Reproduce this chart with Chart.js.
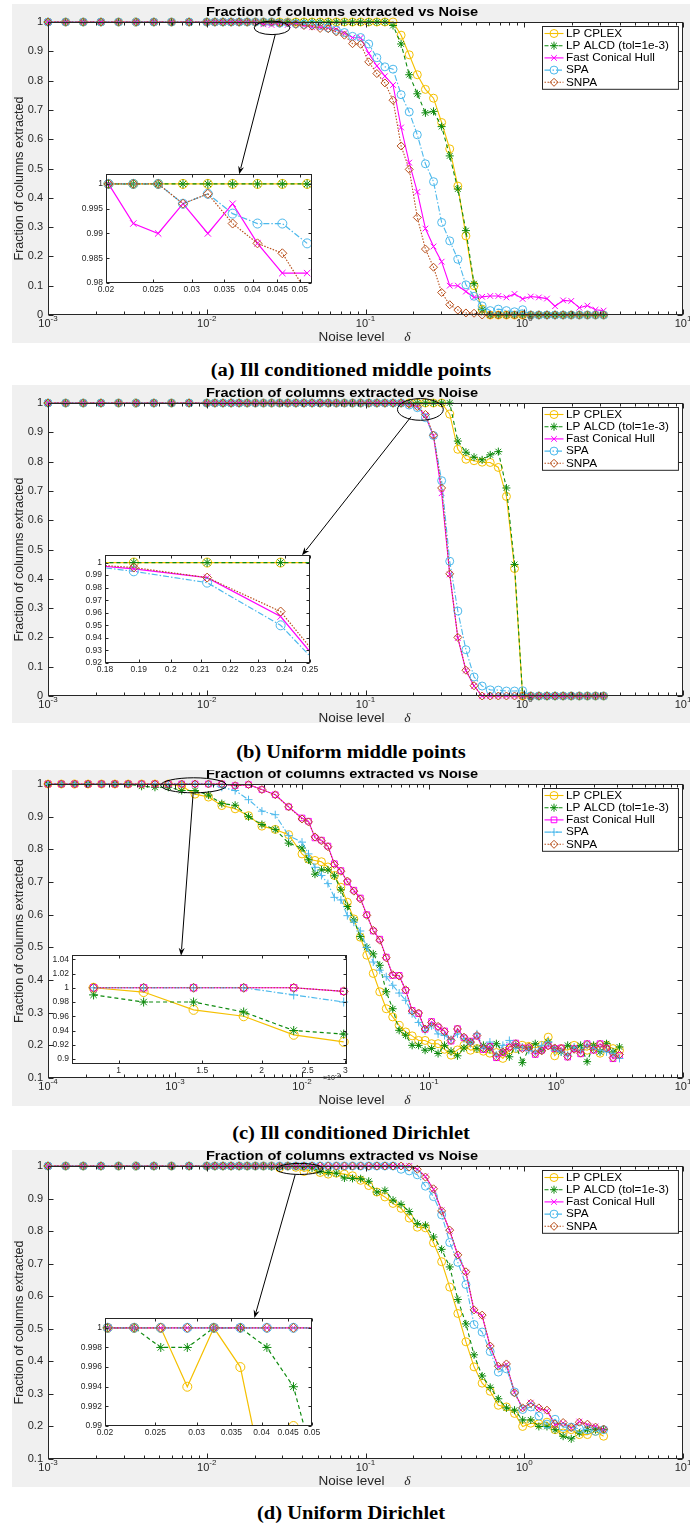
<!DOCTYPE html>
<html><head><meta charset="utf-8">
<script src="https://cdn.jsdelivr.net/npm/chart.js@4.4.1/dist/chart.umd.min.js"></script>
<style>
html,body{margin:0;padding:0;background:#fff}
body{width:694px;height:1525px;position:relative;overflow:hidden}
canvas{position:absolute}
canvas.main{background:#f0f0f0}
.cap{position:absolute;left:4px;width:694px;height:24px;line-height:24px;text-align:center;
 font-family:'Liberation Serif','Times New Roman',serif;font-weight:bold;font-size:18px;color:#000;transform:scaleX(1.14)}
</style></head><body>
<script>
// ---------------- DATA ----------------
const SERIES = ['LP CPLEX', 'LP ALCD (tol=1e-3)', 'Fast Conical Hull', 'SPA', 'SNPA'];

// noise levels (a, b, d)
const xGrid = [0.001,0.001292,0.001668,0.002154,0.002783,0.003594,0.004642,0.005995,0.007743,
 0.01,0.01125,0.01265,0.01423,0.016,0.01799,0.02024,0.02276,0.0256,0.02879,
 0.03238,0.03641,0.04095,0.04606,0.05179,0.05824,0.0655,0.07367,0.08285,0.09318,
 0.1048,0.1179,0.1325,0.1491,0.1676,0.1885,0.212,0.2385,0.2682,0.3017,
 0.3393,0.3816,0.4292,0.4827,0.5429,0.6105,0.6866,0.7722,0.8685,0.9768,
 1.099,1.236,1.39,1.563,1.758,1.977,2.223,2.5,2.812,3.162];
// noise levels (c)
const xGridC = [0.0001,0.0001274,0.0001624,0.0002069,0.0002637,0.000336,0.0004281,0.0005456,0.0006952,0.0008859,
 0.001129,0.001438,0.001833,0.002336,0.002976,0.003793,0.004833,0.006158,0.007848,
 0.01,0.01125,0.01265,0.01423,0.016,0.01799,0.02024,0.02276,0.0256,0.02879,
 0.03238,0.03641,0.04095,0.04606,0.05179,0.05824,0.0655,0.07367,0.08285,0.09318,
 0.1048,0.1179,0.1325,0.1491,0.1676,0.1885,0.212,0.2385,0.2682,0.3017,
 0.3393,0.3816,0.4292,0.4827,0.5429,0.6105,0.6866,0.7722,0.8685,0.9768,
 1.099,1.236,1.39,1.563,1.758,1.977,2.223,2.5,2.812,3.162];

// (a) Ill conditioned middle points
const A_cplex = [1,1,1,1,1,1,1,1,1,
 1,1,1,1,1,1,1,1,1,1,
 1,1,1,1,1,1,1,1,1,1,
 1,1,1,1,0.955,0.888,0.82,0.77,0.74,0.657,
 0.567,0.44,0.27,0.1,0.02,0,0,0,0,0,
 0,0,0,0,0,0,0,0,0,0];
const A_alcd = [1,1,1,1,1,1,1,1,1,
 1,1,1,1,1,1,1,1,1,1,
 1,1,1,1,1,1,1,1,1,1,
 1,1,1,0.988,0.925,0.82,0.755,0.69,0.695,0.643,
 0.543,0.43,0.288,0.107,0.018,0,0,0,0,0,
 0,0,0,0,0,0,0,0,0,0];
const A_fch = [1,1,1,1,1,1,1,1,1,
 1,1,1,1,1,1,1,0.992,0.99,0.996,
 0.99,0.996,0.988,0.982,0.982,0.98,0.975,0.962,0.947,0.946,
 0.893,0.85,0.815,0.785,0.64,0.52,0.42,0.295,0.234,0.182,
 0.1,0.1,0.08,0.06,0.062,0.065,0.065,0.06,0.072,0.055,
 0.063,0.06,0.056,0.03,0.05,0.048,0.025,0.032,0.018,0.015];
const A_spa = [1,1,1,1,1,1,1,1,1,
 1,1,1,1,1,1,1,1,1,0.996,
 0.998,0.994,0.992,0.992,0.988,0.98,0.972,0.964,0.951,0.947,
 0.925,0.878,0.847,0.839,0.752,0.693,0.615,0.516,0.455,0.316,
 0.253,0.19,0.103,0.064,0.031,0.015,0.02,0.015,0.011,0.018,
 0,0,0,0,0,0,0,0,0,0];
const A_snpa = [1,1,1,1,1,1,1,1,1,
 1,1,1,1,1,1,1,1,1,0.996,
 0.998,0.992,0.988,0.986,0.978,0.977,0.966,0.955,0.926,0.924,
 0.864,0.824,0.792,0.733,0.577,0.497,0.333,0.225,0.163,0.077,
 0.035,0.017,0.007,0.006,0,0,0,0,0,0,
 0,0,0,0,0,0,0,0,0,0];

// (b) Uniform middle points
const B_cplex = [1,1,1,1,1,1,1,1,1,
 1,1,1,1,1,1,1,1,1,1,
 1,1,1,1,1,1,1,1,1,1,
 1,1,1,1,1,1,1,1,1,1,
 0.962,0.842,0.808,0.803,0.798,0.797,0.78,0.681,0.435,0,
 0,0,0,0,0,0,0,0,0,0];
const B_alcd = [1,1,1,1,1,1,1,1,1,
 1,1,1,1,1,1,1,1,1,1,
 1,1,1,1,1,1,1,1,1,1,
 1,1,1,1,1,1,1,1,1,1,
 1,0.87,0.832,0.815,0.806,0.823,0.834,0.71,0.449,0,
 0,0,0,0,0,0,0,0,0,0];
const B_fch = [1,1,1,1,1,1,1,1,1,
 1,1,1,1,1,1,1,1,1,1,
 1,1,1,1,1,1,1,1,1,1,
 1,1,1,1,1,0.995,0.988,0.957,0.887,0.692,
 0.415,0.198,0.087,0.034,0,0,0,0,0,0,
 0,0,0,0,0,0,0,0,0,0];
const B_spa = [1,1,1,1,1,1,1,1,1,
 1,1,1,1,1,1,1,1,1,1,
 1,1,1,1,1,1,1,1,1,1,
 1,1,1,1,1,0.993,0.984,0.95,0.889,0.735,
 0.46,0.29,0.158,0.065,0.034,0.021,0.02,0.017,0.017,0.018,
 0,0,0,0,0,0,0,0,0,0];
const B_snpa = [1,1,1,1,1,1,1,1,1,
 1,1,1,1,1,1,1,1,1,1,
 1,1,1,1,1,1,1,1,1,1,
 1,1,1,1,1,0.996,0.988,0.961,0.89,0.71,
 0.417,0.2,0.088,0.035,0,0,0,0,0,0,
 0,0,0,0,0,0,0,0,0,0];

// (c) Ill conditioned Dirichlet
const C_cplex = [1,1,1,1,1,1,1,1,1,1,0.994,0.969,0.96,0.934,0.924,0.903,0.871,0.861,0.845,
 0.786,0.77,0.766,0.762,0.746,0.72,0.684,0.638,0.587,0.531,
 0.476,0.42,0.364,0.312,0.287,0.261,0.241,0.229,0.215,0.215,
 0.205,0.205,0.188,0.17,0.186,0.2,0.185,0.19,0.182,0.176,
 0.178,0.16,0.186,0.19,0.2,0.197,0.192,0.2,0.225,0.168,
 0.19,0.185,0.2,0.19,0.185,0.195,0.176,0.2,0.19,0.185];
const C_alcd = [1,1,1,1,1,1,1,0.993,0.99,0.99,0.98,0.98,0.966,0.94,0.935,0.9,0.876,0.861,0.819,
 0.804,0.768,0.724,0.737,0.737,0.719,0.676,0.625,0.584,0.533,
 0.5,0.48,0.445,0.364,0.312,0.246,0.231,0.2,0.2,0.185,
 0.19,0.175,0.2,0.182,0.168,0.192,0.21,0.19,0.2,0.188,
 0.205,0.18,0.165,0.2,0.147,0.19,0.205,0.185,0.21,0.19,
 0.18,0.2,0.19,0.2,0.15,0.2,0.18,0.205,0.18,0.195];
const C_fch = [1,1,1,1,1,1,1,1,1,1,1,1,1,1,0.995,0.998,0.983,0.967,0.93,
 0.896,0.886,0.835,0.828,0.81,0.756,0.735,0.7,0.675,0.651,
 0.6,0.55,0.525,0.47,0.414,0.414,0.368,0.307,0.297,0.249,
 0.273,0.256,0.244,0.213,0.251,0.223,0.213,0.228,0.187,0.197,
 0.162,0.177,0.195,0.207,0.192,0.192,0.172,0.185,0.2,0.19,
 0.192,0.164,0.19,0.174,0.205,0.185,0.205,0.19,0.159,0.169];
const C_spa = [1,1,1,1,1,1,1,1,1,1,1,1,1,0.99,0.98,0.952,0.917,0.906,0.842,
 0.822,0.786,0.745,0.72,0.695,0.653,0.645,0.597,0.577,0.55,
 0.5,0.455,0.43,0.41,0.384,0.36,0.338,0.297,0.27,0.245,
 0.26,0.235,0.23,0.218,0.235,0.22,0.205,0.235,0.19,0.21,
 0.17,0.2,0.215,0.19,0.195,0.185,0.18,0.2,0.21,0.185,
 0.18,0.17,0.195,0.185,0.2,0.19,0.185,0.18,0.175,0.16];
const C_snpa = [1,1,1,1,1,1,1,1,1,1,1,1,1,1,0.995,0.998,0.983,0.967,0.93,
 0.893,0.884,0.838,0.826,0.808,0.754,0.733,0.703,0.672,0.648,
 0.598,0.552,0.522,0.468,0.416,0.412,0.37,0.305,0.299,0.25,
 0.27,0.258,0.242,0.215,0.25,0.225,0.21,0.23,0.19,0.195,
 0.165,0.18,0.193,0.205,0.19,0.195,0.175,0.183,0.198,0.192,
 0.19,0.166,0.188,0.176,0.203,0.187,0.203,0.192,0.162,0.172];

// (d) Uniform Dirichlet
const D_cplex = [1,1,1,1,1,1,1,1,1,
 1,1,1,1,1,1,1,1,1,0.994,
 1,0.996,0.983,0.99,0.98,0.975,0.978,0.975,0.97,0.956,
 0.94,0.92,0.905,0.885,0.87,0.84,0.812,0.81,0.764,0.706,
 0.628,0.547,0.46,0.383,0.333,0.308,0.265,0.26,0.24,0.2,
 0.21,0.208,0.213,0.19,0.18,0.19,0.175,0.175,0.185,0.17];
const D_alcd = [1,1,1,1,1,1,1,1,1,
 1,1,1,1,1,1,1,1,0.998,0.998,
 1,1,0.998,0.994,0.984,0.98,0.978,0.963,0.962,0.961,
 0.953,0.92,0.925,0.895,0.882,0.86,0.823,0.818,0.782,0.744,
 0.69,0.59,0.515,0.42,0.355,0.32,0.285,0.257,0.25,0.22,
 0.22,0.2,0.2,0.19,0.17,0.162,0.18,0.19,0.19,0.19];
const D_fch = [1,1,1,1,1,1,1,1,1,
 1,1,1,1,1,1,1,1,1,1,
 1,1,1,1,1,1,1,1,1,1,
 1,1,1,1,1,1,0.99,0.968,0.928,0.864,
 0.801,0.725,0.673,0.556,0.54,0.445,0.383,0.39,0.305,0.255,
 0.273,0.255,0.248,0.205,0.21,0.195,0.215,0.205,0.2,0.19];
const D_spa = [1,1,1,1,1,1,1,1,1,
 1,1,1,1,1,1,1,1,1,1,
 1,1,1,1,1,1,1,1,1,1,
 1,1,1,1,0.99,0.985,0.973,0.938,0.906,0.85,
 0.765,0.704,0.636,0.513,0.49,0.43,0.367,0.377,0.306,0.252,
 0.26,0.232,0.207,0.222,0.198,0.198,0.193,0.19,0.185,0.19];
const D_snpa = [1,1,1,1,1,1,1,1,1,
 1,1,1,1,1,1,1,1,1,1,
 1,1,1,1,1,1,1,1,1,1,
 1,1,1,1,1,0.997,0.99,0.966,0.93,0.862,
 0.803,0.727,0.675,0.558,0.542,0.447,0.385,0.392,0.303,0.257,
 0.271,0.257,0.25,0.207,0.212,0.197,0.213,0.207,0.198,0.192];

// tick values / labels
const yTicks0 = [0,0.1,0.2,0.3,0.4,0.5,0.6,0.7,0.8,0.9,1];
const yTicks1 = [0.1,0.2,0.3,0.4,0.5,0.6,0.7,0.8,0.9,1];
const xDecABD = [0.001,0.01,0.1,1,10];
const xExpABD = ['-3','-2','-1','0','1'];
const xDecC = [0.0001,0.001,0.01,0.1,1,10];
const xExpC = ['-4','-3','-2','-1','0','1'];
const insA_x = [0.02,0.025,0.03,0.035,0.04,0.045,0.05];
const insA_y = [0.98,0.985,0.99,0.995,1];
const insB_x = [0.18,0.19,0.2,0.21,0.22,0.23,0.24,0.25];
const insB_y = [0.92,0.93,0.94,0.95,0.96,0.97,0.98,0.99,1];
const insC_x = [0.001,0.0015,0.002,0.0025,0.003];
const insC_xLab = ['1','1.5','2','2.5','3'];
const insC_y = [0.9,0.92,0.94,0.96,0.98,1,1.02,1.04];
const insD_x = [0.02,0.025,0.03,0.035,0.04,0.045,0.05];
const insD_y = [0.99,0.992,0.994,0.996,0.998,1];

// ---------------- STYLE ----------------
const COLORS = ['#f5c000', '#0d8a0d', '#ff00ff', '#4db9ec', '#b8501c'];
const DASH = [[], [4, 3], [], [6, 2, 1.5, 2], [1.5, 1.5]];
const MARK_ABD = ['circle', 'star', 'crossRot', 'circle', 'rectRot'];
const MARK_C = ['circle', 'star', 'rect', 'cross', 'rectRot'];
const FONT = "'Liberation Sans', Arial, Helvetica, sans-serif";
const AXC = '#262626';
const FIG = {};

function font(size, o) { return (o.italic ? 'italic ' : '') + (o.bold ? 'bold ' : '') + size + 'px ' + (o.family || FONT); }
function txt(ctx, s, x, y, size, o) {
  o = o || {};
  ctx.save();
  ctx.font = font(size, o);
  ctx.fillStyle = o.color || AXC;
  ctx.textAlign = o.align || 'center';
  ctx.textBaseline = o.base || 'middle';
  ctx.translate(x, y);
  if (o.rot) ctx.rotate(o.rot);
  if (o.sx) ctx.scale(o.sx, 1);
  ctx.fillText(s, 0, 0);
  ctx.restore();
}
function tw(ctx, s, size, o) { ctx.save(); ctx.font = font(size, o || {}); const w = ctx.measureText(s).width; ctx.restore(); return w; }
function logMinor(min, max) {
  const out = [];
  for (let e = Math.floor(Math.log10(min)); e < Math.log10(max); e++)
    for (let m = 2; m <= 9; m++) { const v = m * Math.pow(10, e); if (v > min * 1.0001 && v < max * 0.9999) out.push(v); }
  return out;
}

const figPlugin = {
  id: 'fig',
  beforeDraw(chart) {
    const a = chart.chartArea, ctx = chart.ctx;
    ctx.save(); ctx.fillStyle = '#fff'; ctx.fillRect(a.left, a.top, a.right - a.left, a.bottom - a.top); ctx.restore();
  },
  afterDatasetsDraw(chart) {
    const c = FIG[chart.canvas.id]; if (!c) return;
    const ctx = chart.ctx, a = chart.chartArea, xs = chart.scales.x, ys = chart.scales.y;
    const L = Math.round(a.left) + 0.5, R = Math.round(a.right) - 0.5, Tp = Math.round(a.top) + 0.5, B = Math.round(a.bottom) - 0.5;
    ctx.save();
    ctx.strokeStyle = AXC; ctx.lineWidth = 1; ctx.setLineDash([]);
    ctx.beginPath();
    const tl = c.tickLen, ml = c.minorLen;
    c.xTicks.forEach(v => { const p = Math.round(xs.getPixelForValue(v)) + 0.5; ctx.moveTo(p, B); ctx.lineTo(p, B - tl); ctx.moveTo(p, Tp); ctx.lineTo(p, Tp + tl); });
    (c.xMinor || []).forEach(v => { const p = Math.round(xs.getPixelForValue(v)) + 0.5; ctx.moveTo(p, B); ctx.lineTo(p, B - ml); ctx.moveTo(p, Tp); ctx.lineTo(p, Tp + ml); });
    c.yTicks.forEach(v => { const p = Math.round(ys.getPixelForValue(v)) + 0.5; ctx.moveTo(L, p); ctx.lineTo(L + tl, p); ctx.moveTo(R, p); ctx.lineTo(R - tl, p); });
    ctx.stroke();
    ctx.strokeRect(L, Tp, R - L, B - Tp);
    ctx.restore();

    // y tick labels
    c.yTicks.forEach(v => txt(ctx, String(v), a.left - c.yLabGap, ys.getPixelForValue(v), c.tickFs, { align: 'right' }));
    // x tick labels
    if (c.xExp) {
      c.xTicks.forEach((v, i) => {
        const p = xs.getPixelForValue(v);
        const w1 = tw(ctx, '10', c.tickFs), w2 = tw(ctx, c.xExp[i], c.expFs);
        const s = p - (w1 + w2) / 2;
        txt(ctx, '10', s, a.bottom + 8.5, c.tickFs, { align: 'left' });
        txt(ctx, c.xExp[i], s + w1, a.bottom + 3.5, c.expFs, { align: 'left' });
      });
    } else {
      c.xTicks.forEach((v, i) => txt(ctx, c.xLabels[i], xs.getPixelForValue(v), a.bottom + 2, c.tickFs, { base: 'top' }));
    }
    if (c.expNote) {
      const x0 = a.right - 24, y0 = a.bottom + 14;
      const w1 = tw(ctx, '\u00d710', 7);
      txt(ctx, '\u00d710', x0, y0, 7, { align: 'left' });
      txt(ctx, '-3', x0 + w1, y0 - 3, 6, { align: 'left' });
    }
    if (c.kind !== 'main') return;

    // ellipse
    if (c.ellipse) {
      const e = c.ellipse;
      const px1 = xs.getPixelForValue(e.x1), px2 = xs.getPixelForValue(e.x2);
      const py1 = ys.getPixelForValue(e.y1), py2 = ys.getPixelForValue(e.y2);
      ctx.save(); ctx.strokeStyle = '#000'; ctx.lineWidth = 1;
      ctx.beginPath();
      ctx.ellipse((px1 + px2) / 2, (py1 + py2) / 2, Math.abs(px2 - px1) / 2, Math.abs(py2 - py1) / 2, 0, 0, Math.PI * 2);
      ctx.stroke(); ctx.restore();
    }
    if (c.arrow) {
      const r = c.arrow;
      const x1 = xs.getPixelForValue(r.x1), y1 = ys.getPixelForValue(r.y1);
      const x2 = xs.getPixelForValue(r.x2), y2 = ys.getPixelForValue(r.y2);
      const ang = Math.atan2(y2 - y1, x2 - x1), hl = 8, hw = 3;
      ctx.save(); ctx.strokeStyle = '#000'; ctx.fillStyle = '#000'; ctx.lineWidth = 1;
      ctx.beginPath(); ctx.moveTo(x1, y1);
      ctx.lineTo(x2 - Math.cos(ang) * hl * 0.8, y2 - Math.sin(ang) * hl * 0.8); ctx.stroke();
      ctx.beginPath(); ctx.moveTo(x2, y2);
      ctx.lineTo(x2 - Math.cos(ang) * hl - Math.sin(ang) * hw, y2 - Math.sin(ang) * hl + Math.cos(ang) * hw);
      ctx.lineTo(x2 - Math.cos(ang) * hl * 0.7, y2 - Math.sin(ang) * hl * 0.7);
      ctx.lineTo(x2 - Math.cos(ang) * hl + Math.sin(ang) * hw, y2 - Math.sin(ang) * hl - Math.cos(ang) * hw);
      ctx.closePath(); ctx.fill(); ctx.restore();
    }

    // legend
    const lg = c.legend, dsets = chart.data.datasets;
    let maxW = 0; dsets.forEach(d => { maxW = Math.max(maxW, tw(ctx, d.label, lg.fs) * lg.sx); });
    const W = 24 + maxW + 9, Hh = 14 + 12.2 * (dsets.length - 1);
    const lx = Math.round(a.right - 5 - W) + 0.5, ly = Math.round(a.top + 4) + 0.5;
    ctx.save();
    ctx.fillStyle = '#fff'; ctx.fillRect(lx, ly, W, Hh);
    ctx.strokeStyle = AXC; ctx.lineWidth = 1; ctx.strokeRect(lx, ly, W, Hh);
    dsets.forEach((d, i) => {
      const yy = ly + 7 + 12.2 * i;
      ctx.save();
      ctx.strokeStyle = d.borderColor; ctx.lineWidth = d.borderWidth; ctx.setLineDash(d.borderDash || []);
      ctx.beginPath(); ctx.moveTo(lx + 2, yy); ctx.lineTo(lx + 21, yy); ctx.stroke();
      ctx.setLineDash([]); ctx.fillStyle = 'rgba(0,0,0,0)'; ctx.strokeStyle = d.borderColor; ctx.lineWidth = 1;
      Chart.helpers.drawPoint(ctx, { pointStyle: d.pointStyle, rotation: 0, radius: d.pointRadius, borderWidth: 1 }, lx + 11.5, yy);
      ctx.restore();
      txt(ctx, d.label, lx + 23.5, yy + 0.5, lg.fs, { align: 'left', color: '#000', sx: lg.sx });
    });
    ctx.restore();

    // titles
    txt(ctx, c.title, c.titleX, a.top - 9.5, 13.5, { bold: true, color: '#000', sx: 1.08 });
    const cx = (a.left + a.right) / 2;
    txt(ctx, 'Noise level', cx - 14, a.bottom + 22, 13.5, { color: AXC });
    txt(ctx, '\u03b4', cx + 42, a.bottom + 22, 13.5, { color: AXC, italic: true, family: "'Liberation Serif', serif" });
    txt(ctx, 'Fraction of columns extracted', 8, (a.top + a.bottom) / 2 + 10, 12.5, { color: AXC, rot: -Math.PI / 2 });
  }
};

function addCanvas(id, cls, left, top, w, h) {
  const cv = document.createElement('canvas');
  cv.id = id; cv.className = cls; cv.width = w; cv.height = h;
  cv.style.left = left + 'px'; cv.style.top = top + 'px'; cv.style.width = w + 'px'; cv.style.height = h + 'px';
  document.body.appendChild(cv);
  return cv;
}

function makeDatasets(xs, vals, marks, from, to, inset, clip) {
  return SERIES.map((name, i) => {
    const pts = [];
    for (let j = from; j <= to; j++) pts.push({ x: xs[j], y: vals[i][j] });
    return {
      label: name, data: pts,
      borderColor: COLORS[i], backgroundColor: 'rgba(0,0,0,0)',
      borderWidth: inset ? 1.2 : 1.1, borderDash: DASH[i],
      pointStyle: marks[i], pointRadius: inset ? 4.5 : 4, pointBorderWidth: 1,
      pointBorderColor: COLORS[i], pointBackgroundColor: 'rgba(0,0,0,0)',
      tension: 0, clip: clip, order: 4 - i
    };
  });
}

const PANELS = [
  { id: 'a', xs: xGrid, vals: [A_cplex, A_alcd, A_fch, A_spa, A_snpa], marks: MARK_ABD,
    xMin: 0.001, xMax: 10, yMin: 0, yMax: 1, yTicks: yTicks0, xDec: xDecABD, xExp: xExpABD,
    top: 4, h: 339, pt: 18, pb: 28,
    ellipse: { x1: 0.0199, x2: 0.0334, y1: 0.957, y2: 1.003 }, arrow: { x1: 0.027, y1: 0.957, x2: 0.016, y2: 0.48 },
    caption: '(a) Ill conditioned middle points', capY: 370,
    inset: { box: [106, 174, 312, 283], from: 15, to: 23, xMin: 0.02, xMax: 0.053, yMin: 0.98, yMax: 1.002,
      xTicks: insA_x, xLabels: insA_x.map(String), yTicks: insA_y, clip: { left: 6, top: 6, right: 6, bottom: 0 } } },
  { id: 'b', xs: xGrid, vals: [B_cplex, B_alcd, B_fch, B_spa, B_snpa], marks: MARK_ABD,
    xMin: 0.001, xMax: 10, yMin: 0, yMax: 1, yTicks: yTicks0, xDec: xDecABD, xExp: xExpABD,
    top: 385, h: 338, pt: 18, pb: 27,
    ellipse: { x1: 0.159, x2: 0.309, y1: 0.941, y2: 1.015 }, arrow: { x1: 0.1935, y1: 0.953, x2: 0.0398, y2: 0.48 },
    caption: '(b) Uniform middle points', capY: 752,
    inset: { box: [105, 555, 310, 663], from: 33, to: 37, xMin: 0.18, xMax: 0.25, yMin: 0.92, yMax: 1.006,
      xTicks: insB_x, xLabels: insB_x.map(String), yTicks: insB_y, clip: 0 } },
  { id: 'c', xs: xGridC, vals: [C_cplex, C_alcd, C_fch, C_spa, C_snpa], marks: MARK_C,
    xMin: 0.0001, xMax: 10, yMin: 0.1, yMax: 1, yTicks: yTicks1, xDec: xDecC, xExp: xExpC,
    top: 770, h: 336, pt: 14, pb: 28,
    ellipse: { x1: 0.000773, x2: 0.00255, y1: 0.973, y2: 1.019 }, arrow: { x1: 0.00139, y1: 0.973, x2: 0.001117, y2: 0.474 },
    caption: '(c) Ill conditioned Dirichlet', capY: 1133,
    inset: { box: [72, 955, 347, 1064], from: 9, to: 14, xMin: 0.000798, xMax: 0.003024, yMin: 0.893, yMax: 1.046,
      xTicks: insC_x, xLabels: insC_xLab, yTicks: insC_y, clip: false, expNote: true } },
  { id: 'd', xs: xGrid, vals: [D_cplex, D_alcd, D_fch, D_spa, D_snpa], marks: MARK_ABD,
    xMin: 0.001, xMax: 10, yMin: 0.1, yMax: 1, yTicks: yTicks1, xDec: xDecABD, xExp: xExpABD,
    top: 1150, h: 337, pt: 16, pb: 28,
    ellipse: { x1: 0.0275, x2: 0.054, y1: 0.974, y2: 1.008 }, arrow: { x1: 0.0361, y1: 0.974, x2: 0.01995, y2: 0.533 },
    caption: '(d) Uniform Dirichlet', capY: 1513,
    inset: { box: [105, 1318, 312, 1426], from: 15, to: 23, xMin: 0.02, xMax: 0.05, yMin: 0.99, yMax: 1.001,
      xTicks: insD_x, xLabels: insD_x.map(String), yTicks: insD_y, clip: { left: 6, top: 6, right: 0, bottom: 0 } } }
];

const MAIN_LEFT = 12, MAIN_W = 678;
PANELS.forEach(P => {
  // main chart
  const mid = 'main_' + P.id;
  const cv = addCanvas(mid, 'main', MAIN_LEFT, P.top, MAIN_W, P.h);
  FIG[mid] = {
    kind: 'main', xTicks: P.xDec, xExp: P.xExp, xMinor: logMinor(P.xMin, P.xMax), yTicks: P.yTicks,
    tickLen: 5, minorLen: 3, tickFs: 11, expFs: 8, yLabGap: 5,
    ellipse: P.ellipse, arrow: P.arrow, legend: { fs: 10.5, sx: 1.12 },
    title: 'Fraction of columns extracted vs Noise', titleX: 342 - MAIN_LEFT
  };
  new Chart(cv, {
    type: 'line',
    data: { datasets: makeDatasets(P.xs, P.vals, P.marks, 0, P.xs.length - 1, false, false) },
    options: {
      responsive: false, animation: false, events: [], devicePixelRatio: 1,
      layout: { padding: { left: 36, right: 7, top: P.pt, bottom: P.pb } },
      scales: {
        x: { type: 'logarithmic', min: P.xMin, max: P.xMax, display: false },
        y: { type: 'linear', min: P.yMin, max: P.yMax, display: false }
      },
      plugins: { legend: { display: false }, tooltip: { enabled: false } }
    },
    plugins: [figPlugin]
  });

  // inset chart
  const I = P.inset;
  const padL = 34, padR = 8, padT = 8, padB = 22;
  const iid = 'inset_' + P.id;
  const bw = I.box[2] - I.box[0], bh = I.box[3] - I.box[1];
  const icv = addCanvas(iid, 'inset', I.box[0] - padL, I.box[1] - padT, bw + padL + padR, bh + padT + padB);
  FIG[iid] = {
    kind: 'inset', xTicks: I.xTicks, xLabels: I.xLabels, yTicks: I.yTicks,
    tickLen: 3, minorLen: 2, tickFs: 8.5, yLabGap: 3, expNote: !!I.expNote
  };
  new Chart(icv, {
    type: 'line',
    data: { datasets: makeDatasets(P.xs, P.vals, P.marks, I.from, I.to, true, I.clip) },
    options: {
      responsive: false, animation: false, events: [], devicePixelRatio: 1,
      layout: { padding: { left: padL, right: padR, top: padT, bottom: padB } },
      scales: {
        x: { type: 'logarithmic', min: I.xMin, max: I.xMax, display: false },
        y: { type: 'linear', min: I.yMin, max: I.yMax, display: false }
      },
      plugins: { legend: { display: false }, tooltip: { enabled: false } }
    },
    plugins: [figPlugin]
  });

  // caption
  const d = document.createElement('div');
  d.className = 'cap'; d.textContent = P.caption; d.style.top = (P.capY - 12) + 'px';
  document.body.appendChild(d);
});
</script>
</body></html>
